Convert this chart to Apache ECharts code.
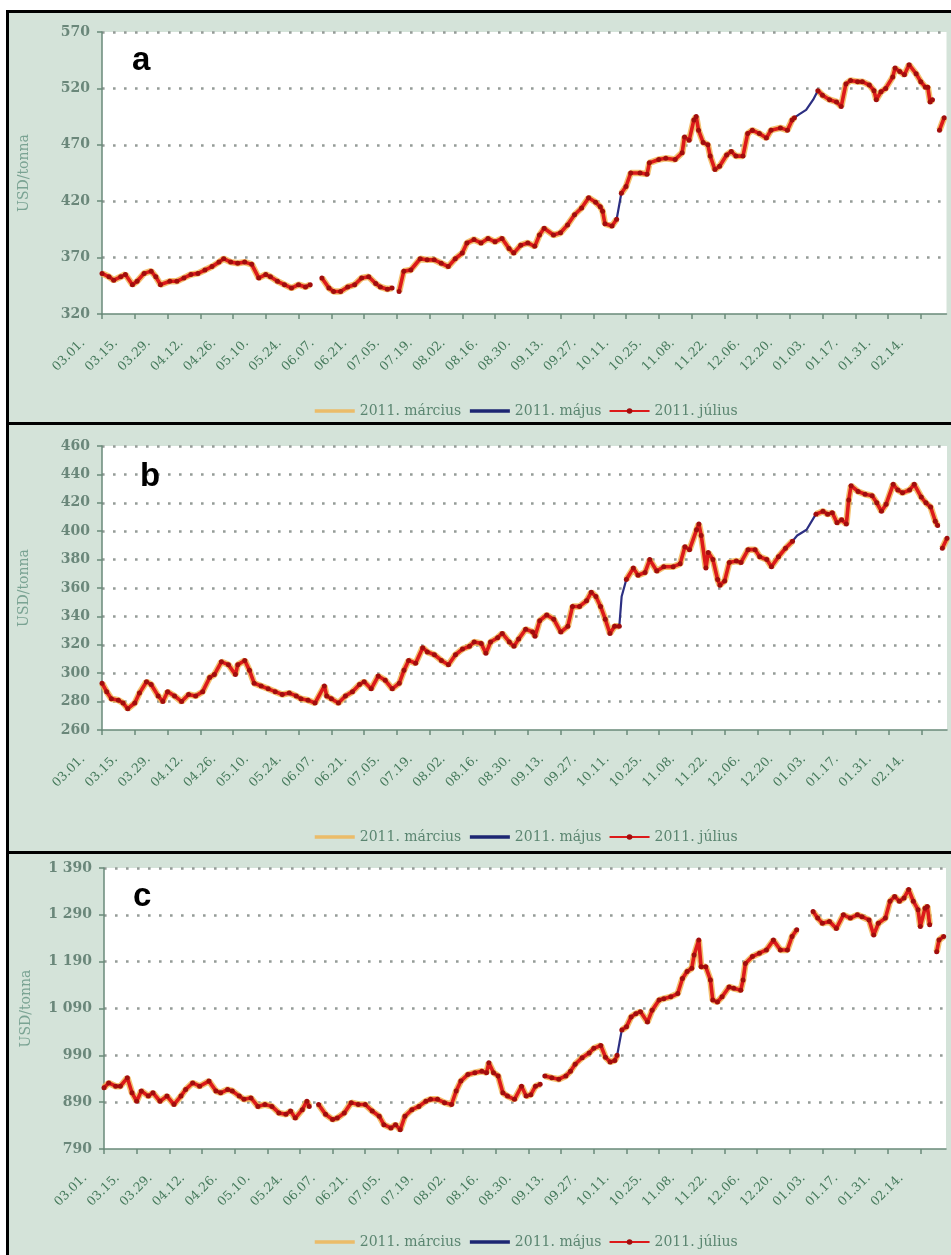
<!DOCTYPE html>
<html>
<head>
<meta charset="utf-8">
<script src="https://cdn.jsdelivr.net/npm/echarts@6/dist/echarts.min.js"></script>
<style>
  html, body { margin: 0; padding: 0; background: #ffffff; }
  #frame { position: absolute; left: 6px; top: 10px; width: 945px; height: 1245px; background: #000000; }
  .panel { position: absolute; left: 3px; width: 942px; background: #d4e3d9; }
</style>
</head>
<body>
<div id="frame">
  <div class="panel" id="pa" style="top:3px;height:409px"></div>
  <div class="panel" id="pb" style="top:415px;height:426px"></div>
  <div class="panel" id="pc" style="top:844px;height:401px"></div>
</div>
<script>
// Date labels on the horizontal axis, one every 14 days from 2010-03-01
const TICK_LABELS = ['03.01.','03.15.','03.29.','04.12.','04.26.','05.10.','05.24.','06.07.','06.21.',
  '07.05.','07.19.','08.02.','08.16.','08.30.','09.13.','09.27.','10.11.','10.25.','11.08.','11.22.',
  '12.06.','12.20.','01.03.','01.17.','01.31.','02.14.'];
const TICK_STEP = 14;      // days between labelled dates
const LAST_DAY = 361;      // 2011-02-25

const SERIES_NAMES = ['2011. március', '2011. május', '2011. július'];

// ---- panel a: quotes in USD/tonna, days counted from 2010-03-01 (null = no quote)
const daysA = [0,3,5,8,10,13,15,18,21,23,25,29,32,35,38,41,44,47,50,52,55,58,61,64,67,70,72,75,78,81,84,87,89,91,
  94,97,99,102,105,108,111,114,117,119,122,124,126,127,129,132,136,139,142,145,148,151,154,156,159,162,165,168,171,
  174,176,179,182,185,187,189,193,196,199,202,205,208,211,213,214,215,218,220,221,222,224,226,230,233,234,238,241,
  245,248,249,251,253,254,255,257,259,260,262,264,267,269,271,274,276,278,281,284,286,290,293,295,296,300,306,308,
  311,314,316,318,320,323,325,328,330,331,333,335,338,339,341,343,345,348,350,352,353,354,355,357,358,360];
const julyA = [356,353,350,353,355,346,349,356,358,353,346,349,349,352,355,356,359,362,366,369,366,365,366,364,352,
  355,353,349,346,343,346,344,346,null,352,343,340,340,344,346,352,353,347,344,342,343,null,340,358,359,369,368,368,
  365,362,369,374,383,386,383,387,384,387,378,374,381,383,380,390,396,390,392,399,408,414,423,419,415,411,400,398,
  404,null,427,433,445,445,444,454,457,458,457,463,477,474,492,495,483,472,470,460,448,451,461,464,460,460,480,483,
  480,476,483,485,483,492,494,null,518,514,510,508,504,524,527,526,526,523,518,510,517,520,530,538,535,532,541,533,
  526,521,521,508,510,null,483,494];
// stretches where only the May contract is quoted
const mayOnlyA = [[220,404],[222,427],[260,null],[296,494],[298,497],[301,501],[304,510],[306,518]];

// ---- panel b
const daysB = [0,2,4,7,9,11,14,16,19,21,24,26,28,31,34,37,40,43,46,48,51,54,57,58,61,63,65,68,71,74,77,80,83,85,88,
  91,95,96,98,101,104,107,110,112,115,118,121,124,127,129,131,134,137,139,142,145,148,151,154,157,159,162,164,166,
  169,171,174,176,178,181,184,185,187,190,193,196,199,201,204,207,209,211,213,215,217,219,221,222,224,227,229,232,
  234,237,240,244,247,249,251,254,255,256,258,259,261,263,264,266,268,271,273,276,279,281,284,286,289,292,295,299,
  305,308,310,312,314,316,318,319,320,323,326,329,331,333,335,338,340,342,345,347,350,352,354,356,357,358,359,361];
const julyB = [293,287,282,281,279,275,279,286,294,292,284,280,287,284,280,285,284,287,297,299,308,306,299,306,309,
  302,293,291,289,287,285,286,284,282,281,279,291,284,282,279,284,287,292,294,289,298,295,289,293,302,309,307,318,
  315,313,309,306,313,317,319,322,321,314,322,325,328,322,319,324,331,329,326,337,341,338,329,333,347,347,351,357,
  354,347,338,328,333,333,null,366,374,369,371,380,372,375,375,377,389,387,401,405,397,374,385,380,366,362,365,378,
  379,378,387,387,382,380,375,382,388,393,null,412,414,412,413,406,408,405,422,432,428,426,425,420,414,419,433,429,
  427,429,433,424,420,417,407,404,null,388,395];
const mayOnlyB = [[221,333],[222,354],[224,366],[260,null],[295,393],[297,397],[301,401],[305,412]];

// ---- panel c
const daysC = [0,2,5,7,10,12,14,16,19,21,24,27,30,33,35,38,41,45,48,50,53,55,58,60,63,66,69,72,75,78,80,82,85,87,88,
  90,92,95,98,100,103,106,109,112,115,118,120,123,125,127,129,132,135,138,140,143,146,149,151,153,156,159,162,164,
  165,167,169,171,173,176,179,181,183,185,187,188,189,192,195,198,200,202,205,208,210,213,215,217,219,220,221,222,
  224,226,228,230,233,235,238,240,243,246,248,250,252,253,255,256,258,260,261,263,265,268,270,273,274,275,278,281,
  284,287,290,293,295,297,300,304,306,308,311,314,317,320,323,325,328,330,332,335,337,339,341,343,345,347,349,350,
  352,353,354,355,357,358,360];
const julyC = [921,931,924,924,942,910,892,914,903,910,892,903,885,903,917,931,924,935,914,910,917,914,903,896,899,
  881,885,881,867,864,871,856,874,892,881,null,885,864,853,856,867,889,885,885,871,860,842,835,842,831,860,874,881,
  892,896,896,889,885,914,935,949,953,956,953,974,953,946,910,903,896,924,903,906,924,928,null,946,942,939,946,956,
  971,985,995,1005,1011,986,976,979,990,null,1044,1051,1072,1079,1083,1061,1086,1108,1111,1115,1122,1154,1169,1176,
  1204,1236,1179,1179,1151,1108,1104,1115,1136,1133,1129,1151,1186,1201,1208,1215,1236,1215,1215,1244,1258,null,
  1297,1283,1272,1276,1261,1290,1283,1290,1286,1279,1247,1272,1283,1319,1329,1319,1326,1344,1319,1301,1265,1304,
  1308,1269,null,1211,1236,1244];
const mayOnlyC = [[220,990],[222,1044]];

const AXIS_COLOR = '#6a8a7a';
const SERIF = '"DejaVu Serif", "Liberation Serif", serif';
const COLORS = { march: '#f0b24c', may: '#1c2672', july: '#dc1a1a', julyDot: '#a10d0d' };

function toPairs(days, values) {
  return days.map((d, i) => [d, values[i]]);
}

function thousands(v) {
  const s = String(v);
  return s.length > 3 ? s.slice(0, s.length - 3) + ' ' + s.slice(-3) : s;
}

function drawPanel(id, cfg) {
  const chart = echarts.init(document.getElementById(id), null, { renderer: 'canvas' });
  const quotes = toPairs(cfg.days, cfg.july);
  const tickValues = TICK_LABELS.map((_, i) => i * TICK_STEP);

  chart.setOption({
    animation: false,
    grid: {
      left: cfg.grid.left, top: cfg.grid.top, right: cfg.grid.right, height: cfg.grid.height,
      show: true, backgroundColor: '#ffffff', borderWidth: 0
    },
    legend: {
      data: [
        { name: SERIES_NAMES[0], itemStyle: { opacity: 0 }, lineStyle: { width: 3.5 } },
        { name: SERIES_NAMES[1], itemStyle: { opacity: 0 }, lineStyle: { width: 3.5 } },
        { name: SERIES_NAMES[2], lineStyle: { width: 2 } }
      ],
      left: 299, top: cfg.legendTop,
      itemWidth: 40, itemHeight: 7, itemGap: 7,
      textStyle: { fontFamily: SERIF, fontSize: 14, color: '#5a8570' }
    },
    xAxis: {
      type: 'value', min: 0, max: LAST_DAY,
      axisLine: { show: true, lineStyle: { color: AXIS_COLOR, width: 1.5 } },
      axisTick: { show: true, length: 5, customValues: tickValues, lineStyle: { color: AXIS_COLOR, width: 1.5 } },
      axisLabel: {
        customValues: tickValues,
        formatter: v => TICK_LABELS[Math.round(v / TICK_STEP)] || '',
        rotate: 45, margin: 8, padding: [0, 27, 0, 0],
        fontFamily: SERIF, fontSize: 12.5, color: '#467a5c'
      },
      splitLine: { show: false }
    },
    yAxis: {
      type: 'value', min: cfg.yMin, max: cfg.yMax, interval: cfg.yStep,
      name: 'USD/tonna', nameLocation: 'middle', nameRotate: 90, nameGap: 71,
      nameTextStyle: { fontFamily: SERIF, fontSize: 14, color: '#7aa393' },
      axisLine: { show: true, lineStyle: { color: AXIS_COLOR, width: 1.5 } },
      axisTick: { show: true, length: 5, lineStyle: { color: AXIS_COLOR, width: 1.5 } },
      axisLabel: {
        margin: 12, formatter: thousands,
        fontFamily: SERIF, fontSize: 14, fontWeight: 'bold', color: '#6a877a'
      },
      splitLine: {
        show: true, showMinLine: false,
        lineStyle: { color: '#959c98', width: 2.6, type: [2.6, 8.4] }
      }
    },
    graphic: [{
      type: 'text', z: 100,
      style: {
        x: cfg.letterX, y: cfg.letterY, text: cfg.letter,
        font: 'bold 33px "Liberation Sans", Arial, sans-serif',
        fill: '#000000', verticalAlign: 'middle'
      }
    }],
    series: [
      {
        name: SERIES_NAMES[0], type: 'line', data: quotes, z: 1,
        symbol: 'none', connectNulls: false,
        lineStyle: { color: COLORS.march, width: 6.5, opacity: 0.8 },
        itemStyle: { color: COLORS.march }
      },
      {
        name: SERIES_NAMES[1], type: 'line', data: quotes, z: 2,
        symbol: 'none', connectNulls: false,
        lineStyle: { color: COLORS.may, width: 2 },
        itemStyle: { color: COLORS.may }
      },
      {
        name: SERIES_NAMES[1], type: 'line', data: cfg.mayOnly, z: 2,
        symbol: 'none', connectNulls: false,
        lineStyle: { color: '#2c2f82', width: 2.2 },
        itemStyle: { color: COLORS.may }
      },
      {
        name: SERIES_NAMES[2], type: 'line', data: quotes, z: 3,
        symbol: 'circle', symbolSize: 5, showSymbol: true, connectNulls: false,
        lineStyle: { color: COLORS.july, width: 3.6 },
        itemStyle: { color: COLORS.julyDot }
      }
    ]
  });
}

drawPanel('pa', {
  days: daysA, july: julyA, mayOnly: mayOnlyA,
  yMin: 320, yMax: 570, yStep: 50,
  grid: { left: 92, top: 19, right: 4.5, height: 282 },
  legendTop: 386, letter: 'a', letterX: 123, letterY: 48
});
drawPanel('pb', {
  days: daysB, july: julyB, mayOnly: mayOnlyB,
  yMin: 260, yMax: 460, yStep: 20,
  grid: { left: 92, top: 21, right: 4, height: 284 },
  legendTop: 400, letter: 'b', letterX: 131, letterY: 52
});
drawPanel('pc', {
  days: daysC, july: julyC, mayOnly: mayOnlyC,
  yMin: 790, yMax: 1390, yStep: 100,
  grid: { left: 95, top: 14, right: 5, height: 281 },
  legendTop: 376, letter: 'c', letterX: 124, letterY: 43
});
</script>
</body>
</html>
